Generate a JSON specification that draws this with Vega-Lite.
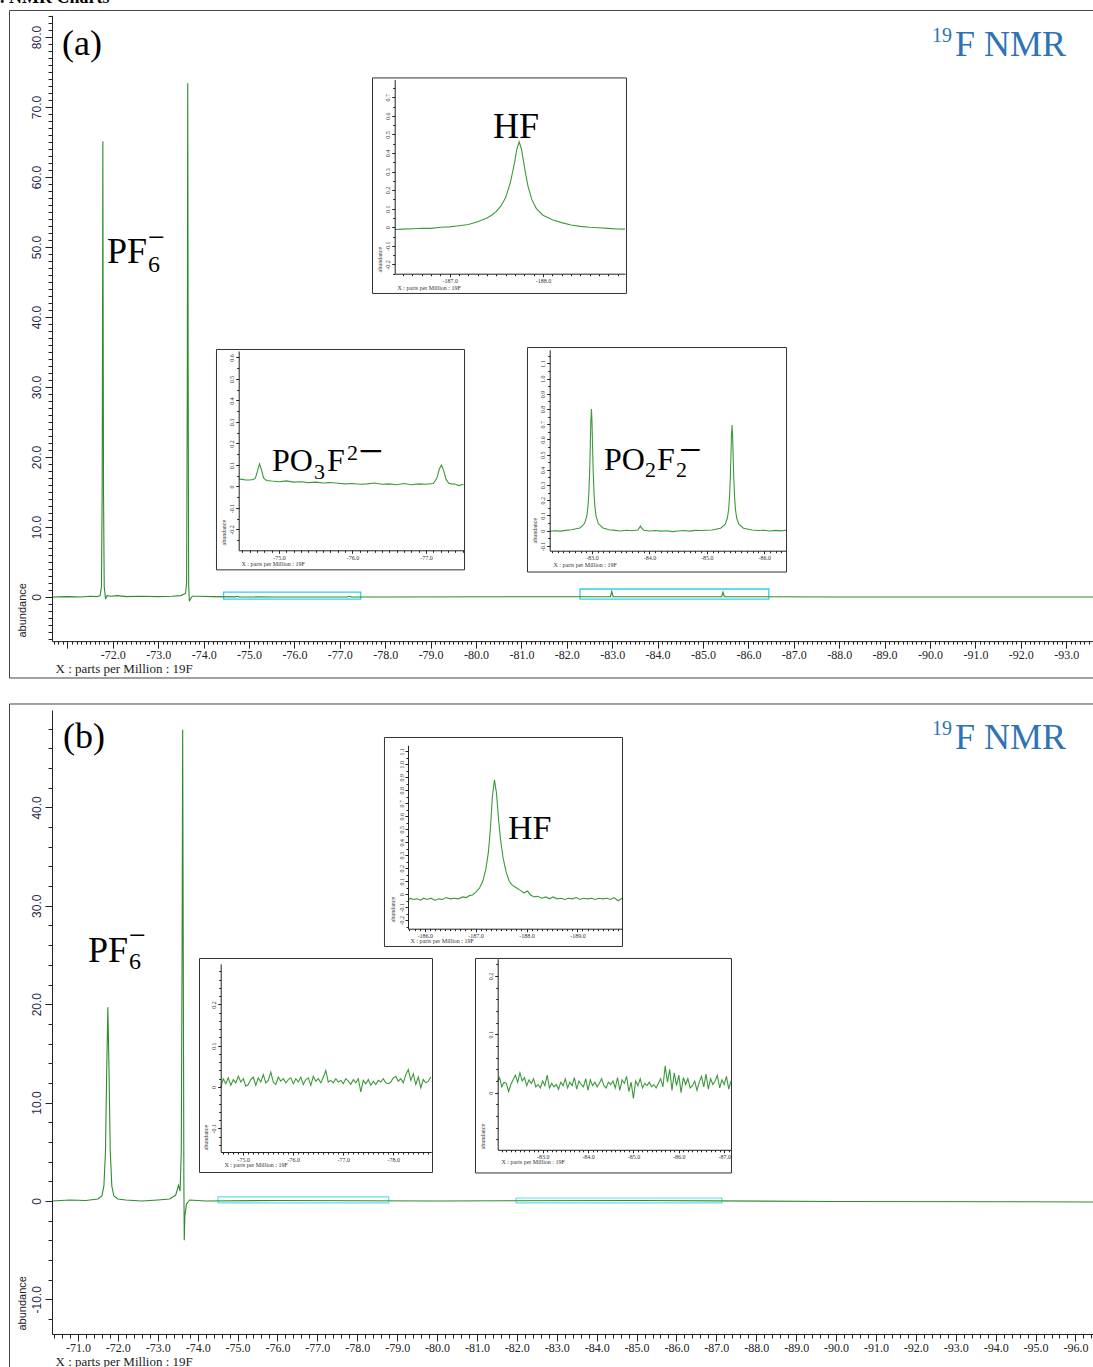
{
"$schema":"https://vega.github.io/schema/vega-lite/v6.json",
"width":1093,"height":1367,"autosize":"none","padding":0,"background":"white",
"config":{"view":{"stroke":null},"axis":{"grid":false,"domainColor":"#222","tickColor":"#222","labelColor":"#222","titleColor":"#222","labelOverlap":false,"labelFlush":false},"text":{"font":"Liberation Serif","color":"black"}},
"datasets":{
"one":[{}],
"mainA":[{"ppm":-70.66,"ab":0},{"ppm":-71.0,"ab":0.05},{"ppm":-71.3,"ab":0},{"ppm":-71.5,"ab":0.1},{"ppm":-71.65,"ab":0.05},{"ppm":-71.72,"ab":0.2},{"ppm":-71.75,"ab":1.5},{"ppm":-71.765,"ab":15},{"ppm":-71.775,"ab":45},{"ppm":-71.78,"ab":65.1},{"ppm":-71.785,"ab":45},{"ppm":-71.795,"ab":15},{"ppm":-71.81,"ab":1.5},{"ppm":-71.84,"ab":-0.3},{"ppm":-71.87,"ab":0.2},{"ppm":-71.95,"ab":0.1},{"ppm":-72.1,"ab":0.2},{"ppm":-72.3,"ab":0.05},{"ppm":-72.6,"ab":0.1},{"ppm":-73.0,"ab":0.05},{"ppm":-73.3,"ab":0.1},{"ppm":-73.5,"ab":0.2},{"ppm":-73.6,"ab":0.5},{"ppm":-73.625,"ab":2},{"ppm":-73.64,"ab":30},{"ppm":-73.65,"ab":73.4},{"ppm":-73.66,"ab":30},{"ppm":-73.67,"ab":2},{"ppm":-73.685,"ab":-0.6},{"ppm":-73.7,"ab":-0.4},{"ppm":-73.75,"ab":0.1},{"ppm":-73.9,"ab":0.1},{"ppm":-74.2,"ab":0.05},{"ppm":-74.7,"ab":0.02},{"ppm":-74.74,"ab":0.1},{"ppm":-74.78,"ab":0.02},{"ppm":-75.5,"ab":0},{"ppm":-77.17,"ab":0.01},{"ppm":-77.21,"ab":0.1},{"ppm":-77.25,"ab":0.01},{"ppm":-78.0,"ab":0},{"ppm":-82.96,"ab":0.05},{"ppm":-82.99,"ab":0.8},{"ppm":-83.02,"ab":0.05},{"ppm":-83.84,"ab":0.03},{"ppm":-85.41,"ab":0.05},{"ppm":-85.44,"ab":0.7},{"ppm":-85.47,"ab":0.05},{"ppm":-88.0,"ab":0},{"ppm":-93.59,"ab":0}],
"mainB":[{"ppm":-70.35,"ab":0},{"ppm":-70.8,"ab":0.1},{"ppm":-71.2,"ab":0.05},{"ppm":-71.5,"ab":0.2},{"ppm":-71.6,"ab":0.5},{"ppm":-71.65,"ab":1.5},{"ppm":-71.69,"ab":5},{"ppm":-71.72,"ab":13},{"ppm":-71.75,"ab":19.7},{"ppm":-71.78,"ab":13},{"ppm":-71.81,"ab":5},{"ppm":-71.85,"ab":1.5},{"ppm":-71.9,"ab":0.5},{"ppm":-72.0,"ab":0.2},{"ppm":-72.2,"ab":0.1},{"ppm":-72.6,"ab":0},{"ppm":-73.0,"ab":0.1},{"ppm":-73.3,"ab":0.2},{"ppm":-73.45,"ab":0.6},{"ppm":-73.52,"ab":1.6},{"ppm":-73.56,"ab":1.0},{"ppm":-73.59,"ab":5},{"ppm":-73.61,"ab":25},{"ppm":-73.625,"ab":47.9},{"ppm":-73.64,"ab":25},{"ppm":-73.655,"ab":2},{"ppm":-73.665,"ab":-4.0},{"ppm":-73.68,"ab":-1.5},{"ppm":-73.72,"ab":-0.3},{"ppm":-73.8,"ab":0.1},{"ppm":-74.2,"ab":0},{"ppm":-76,"ab":0.05},{"ppm":-80,"ab":0},{"ppm":-85,"ab":0.05},{"ppm":-90,"ab":-0.05},{"ppm":-96.44,"ab":-0.1}],
"hfA":[{"ppm":-186.41,"ab":-0.012},{"ppm":-186.5,"ab":-0.01},{"ppm":-186.6,"ab":-0.008},{"ppm":-186.7,"ab":-0.005},{"ppm":-186.8,"ab":-0.006},{"ppm":-186.9,"ab":0.0},{"ppm":-187.0,"ab":0.002},{"ppm":-187.1,"ab":0.008},{"ppm":-187.2,"ab":0.015},{"ppm":-187.3,"ab":0.03},{"ppm":-187.4,"ab":0.05},{"ppm":-187.45,"ab":0.065},{"ppm":-187.5,"ab":0.085},{"ppm":-187.55,"ab":0.115},{"ppm":-187.6,"ab":0.16},{"ppm":-187.65,"ab":0.24},{"ppm":-187.68,"ab":0.31},{"ppm":-187.7,"ab":0.36},{"ppm":-187.72,"ab":0.42},{"ppm":-187.745,"ab":0.46},{"ppm":-187.77,"ab":0.42},{"ppm":-187.79,"ab":0.36},{"ppm":-187.81,"ab":0.3},{"ppm":-187.84,"ab":0.22},{"ppm":-187.88,"ab":0.15},{"ppm":-187.93,"ab":0.1},{"ppm":-188.0,"ab":0.065},{"ppm":-188.1,"ab":0.04},{"ppm":-188.2,"ab":0.025},{"ppm":-188.3,"ab":0.012},{"ppm":-188.4,"ab":0.005},{"ppm":-188.5,"ab":0.0},{"ppm":-188.6,"ab":-0.003},{"ppm":-188.7,"ab":-0.006},{"ppm":-188.8,"ab":-0.009},{"ppm":-188.88,"ab":-0.01}],
"po3fA":[{"ppm":-74.452,"ab":0.035},{"ppm":-74.5,"ab":0.033},{"ppm":-74.55,"ab":0.03},{"ppm":-74.6,"ab":0.03},{"ppm":-74.65,"ab":0.032},{"ppm":-74.68,"ab":0.04},{"ppm":-74.71,"ab":0.075},{"ppm":-74.735,"ab":0.105},{"ppm":-74.76,"ab":0.08},{"ppm":-74.79,"ab":0.04},{"ppm":-74.83,"ab":0.028},{"ppm":-74.9,"ab":0.025},{"ppm":-75.0,"ab":0.022},{"ppm":-75.1,"ab":0.026},{"ppm":-75.2,"ab":0.02},{"ppm":-75.3,"ab":0.022},{"ppm":-75.4,"ab":0.018},{"ppm":-75.5,"ab":0.02},{"ppm":-75.6,"ab":0.016},{"ppm":-75.7,"ab":0.018},{"ppm":-75.8,"ab":0.015},{"ppm":-75.9,"ab":0.012},{"ppm":-76.0,"ab":0.014},{"ppm":-76.1,"ab":0.01},{"ppm":-76.2,"ab":0.012},{"ppm":-76.3,"ab":0.016},{"ppm":-76.4,"ab":0.01},{"ppm":-76.5,"ab":0.012},{"ppm":-76.6,"ab":0.008},{"ppm":-76.7,"ab":0.014},{"ppm":-76.8,"ab":0.008},{"ppm":-76.9,"ab":0.012},{"ppm":-77.0,"ab":0.01},{"ppm":-77.1,"ab":0.014},{"ppm":-77.15,"ab":0.04},{"ppm":-77.18,"ab":0.08},{"ppm":-77.21,"ab":0.1},{"ppm":-77.24,"ab":0.075},{"ppm":-77.27,"ab":0.035},{"ppm":-77.31,"ab":0.015},{"ppm":-77.35,"ab":0.012},{"ppm":-77.4,"ab":0.01},{"ppm":-77.45,"ab":0.004},{"ppm":-77.51,"ab":0.01}],
"po2f2A":[{"ppm":-82.263,"ab":-0.004},{"ppm":-82.35,"ab":0.0},{"ppm":-82.45,"ab":-0.003},{"ppm":-82.55,"ab":0.002},{"ppm":-82.64,"ab":0.006},{"ppm":-82.79,"ab":0.018},{"ppm":-82.87,"ab":0.047},{"ppm":-82.91,"ab":0.098},{"ppm":-82.93,"ab":0.16},{"ppm":-82.945,"ab":0.246},{"ppm":-82.96,"ab":0.4},{"ppm":-82.97,"ab":0.554},{"ppm":-82.98,"ab":0.72},{"ppm":-82.99,"ab":0.8},{"ppm":-83.0,"ab":0.72},{"ppm":-83.01,"ab":0.554},{"ppm":-83.02,"ab":0.4},{"ppm":-83.035,"ab":0.246},{"ppm":-83.05,"ab":0.16},{"ppm":-83.07,"ab":0.098},{"ppm":-83.11,"ab":0.047},{"ppm":-83.19,"ab":0.018},{"ppm":-83.3,"ab":0.006},{"ppm":-83.4,"ab":0.002},{"ppm":-83.5,"ab":-0.002},{"ppm":-83.6,"ab":0.003},{"ppm":-83.7,"ab":0.0},{"ppm":-83.8,"ab":0.004},{"ppm":-83.83,"ab":0.022},{"ppm":-83.845,"ab":0.03},{"ppm":-83.86,"ab":0.02},{"ppm":-83.9,"ab":0.003},{"ppm":-84.0,"ab":-0.002},{"ppm":-84.1,"ab":0.001},{"ppm":-84.2,"ab":-0.003},{"ppm":-84.3,"ab":0.0},{"ppm":-84.4,"ab":-0.006},{"ppm":-84.5,"ab":-0.002},{"ppm":-84.6,"ab":0.001},{"ppm":-84.7,"ab":-0.003},{"ppm":-84.8,"ab":0.002},{"ppm":-84.9,"ab":0.001},{"ppm":-85.09,"ab":0.005},{"ppm":-85.24,"ab":0.016},{"ppm":-85.32,"ab":0.041},{"ppm":-85.36,"ab":0.085},{"ppm":-85.38,"ab":0.139},{"ppm":-85.395,"ab":0.214},{"ppm":-85.41,"ab":0.35},{"ppm":-85.42,"ab":0.48},{"ppm":-85.43,"ab":0.625},{"ppm":-85.44,"ab":0.695},{"ppm":-85.45,"ab":0.625},{"ppm":-85.46,"ab":0.48},{"ppm":-85.47,"ab":0.35},{"ppm":-85.485,"ab":0.214},{"ppm":-85.5,"ab":0.139},{"ppm":-85.52,"ab":0.085},{"ppm":-85.56,"ab":0.041},{"ppm":-85.64,"ab":0.016},{"ppm":-85.79,"ab":0.005},{"ppm":-85.9,"ab":0.001},{"ppm":-86.0,"ab":0.003},{"ppm":-86.1,"ab":-0.002},{"ppm":-86.2,"ab":0.002},{"ppm":-86.3,"ab":-0.001},{"ppm":-86.38,"ab":0.003}],
"hfB":[{"ppm":-185.672,"ab":-0.045},{"ppm":-185.72,"ab":-0.03},{"ppm":-185.78,"ab":-0.04},{"ppm":-185.85,"ab":-0.035},{"ppm":-185.92,"ab":-0.045},{"ppm":-185.98,"ab":-0.03},{"ppm":-186.05,"ab":-0.04},{"ppm":-186.12,"ab":-0.03},{"ppm":-186.2,"ab":-0.045},{"ppm":-186.28,"ab":-0.035},{"ppm":-186.35,"ab":-0.04},{"ppm":-186.42,"ab":-0.025},{"ppm":-186.5,"ab":-0.035},{"ppm":-186.58,"ab":-0.03},{"ppm":-186.66,"ab":-0.035},{"ppm":-186.75,"ab":-0.02},{"ppm":-186.82,"ab":-0.025},{"ppm":-186.88,"ab":-0.01},{"ppm":-186.94,"ab":-0.005},{"ppm":-187.0,"ab":0.015},{"ppm":-187.08,"ab":0.05},{"ppm":-187.14,"ab":0.1},{"ppm":-187.2,"ab":0.19},{"ppm":-187.25,"ab":0.32},{"ppm":-187.29,"ab":0.5},{"ppm":-187.33,"ab":0.75},{"ppm":-187.37,"ab":0.88},{"ppm":-187.41,"ab":0.78},{"ppm":-187.45,"ab":0.58},{"ppm":-187.49,"ab":0.42},{"ppm":-187.54,"ab":0.28},{"ppm":-187.6,"ab":0.17},{"ppm":-187.66,"ab":0.1},{"ppm":-187.72,"ab":0.07},{"ppm":-187.8,"ab":0.05},{"ppm":-187.88,"ab":0.03},{"ppm":-187.95,"ab":0.01},{"ppm":-188.02,"ab":0.025},{"ppm":-188.08,"ab":-0.005},{"ppm":-188.15,"ab":-0.02},{"ppm":-188.22,"ab":-0.015},{"ppm":-188.3,"ab":-0.03},{"ppm":-188.38,"ab":-0.02},{"ppm":-188.45,"ab":-0.035},{"ppm":-188.52,"ab":-0.02},{"ppm":-188.6,"ab":-0.035},{"ppm":-188.68,"ab":-0.03},{"ppm":-188.75,"ab":-0.04},{"ppm":-188.82,"ab":-0.03},{"ppm":-188.9,"ab":-0.035},{"ppm":-188.98,"ab":-0.025},{"ppm":-189.05,"ab":-0.04},{"ppm":-189.12,"ab":-0.03},{"ppm":-189.2,"ab":-0.035},{"ppm":-189.28,"ab":-0.03},{"ppm":-189.35,"ab":-0.04},{"ppm":-189.42,"ab":-0.03},{"ppm":-189.5,"ab":-0.035},{"ppm":-189.58,"ab":-0.03},{"ppm":-189.65,"ab":-0.04},{"ppm":-189.72,"ab":-0.025},{"ppm":-189.8,"ab":-0.05},{"ppm":-189.876,"ab":-0.03}],
"noiseB1":[{"ppm":-74.55,"ab":0.0},{"ppm":-74.6,"ab":0.02},{"ppm":-74.65,"ab":0.008},{"ppm":-74.7,"ab":0.022},{"ppm":-74.75,"ab":0.004},{"ppm":-74.8,"ab":0.018},{"ppm":-74.85,"ab":0.01},{"ppm":-74.9,"ab":0.026},{"ppm":-74.95,"ab":0.012},{"ppm":-75.0,"ab":0.02},{"ppm":-75.05,"ab":0.002},{"ppm":-75.1,"ab":0.006},{"ppm":-75.15,"ab":0.018},{"ppm":-75.2,"ab":0.024},{"ppm":-75.25,"ab":0.004},{"ppm":-75.3,"ab":0.022},{"ppm":-75.35,"ab":0.012},{"ppm":-75.4,"ab":0.03},{"ppm":-75.45,"ab":0.01},{"ppm":-75.5,"ab":0.016},{"ppm":-75.55,"ab":0.036},{"ppm":-75.6,"ab":0.012},{"ppm":-75.65,"ab":0.006},{"ppm":-75.7,"ab":0.024},{"ppm":-75.75,"ab":0.014},{"ppm":-75.8,"ab":0.02},{"ppm":-75.85,"ab":0.01},{"ppm":-75.9,"ab":0.018},{"ppm":-75.95,"ab":0.022},{"ppm":-76.0,"ab":0.008},{"ppm":-76.05,"ab":0.02},{"ppm":-76.1,"ab":0.012},{"ppm":-76.15,"ab":0.024},{"ppm":-76.2,"ab":0.006},{"ppm":-76.25,"ab":0.018},{"ppm":-76.3,"ab":0.022},{"ppm":-76.35,"ab":0.004},{"ppm":-76.4,"ab":0.026},{"ppm":-76.45,"ab":0.014},{"ppm":-76.5,"ab":0.02},{"ppm":-76.55,"ab":0.01},{"ppm":-76.6,"ab":0.024},{"ppm":-76.65,"ab":0.04},{"ppm":-76.7,"ab":0.012},{"ppm":-76.75,"ab":0.016},{"ppm":-76.8,"ab":0.01},{"ppm":-76.85,"ab":0.02},{"ppm":-76.9,"ab":0.012},{"ppm":-76.95,"ab":0.016},{"ppm":-77.0,"ab":0.008},{"ppm":-77.05,"ab":0.02},{"ppm":-77.1,"ab":0.014},{"ppm":-77.15,"ab":0.006},{"ppm":-77.2,"ab":0.018},{"ppm":-77.25,"ab":0.01},{"ppm":-77.3,"ab":0.02},{"ppm":-77.35,"ab":-0.012},{"ppm":-77.4,"ab":0.016},{"ppm":-77.45,"ab":0.008},{"ppm":-77.5,"ab":0.018},{"ppm":-77.55,"ab":0.004},{"ppm":-77.6,"ab":0.014},{"ppm":-77.65,"ab":0.006},{"ppm":-77.7,"ab":0.016},{"ppm":-77.75,"ab":0.012},{"ppm":-77.8,"ab":0.02},{"ppm":-77.85,"ab":0.01},{"ppm":-77.9,"ab":0.008},{"ppm":-77.95,"ab":0.012},{"ppm":-78.0,"ab":0.022},{"ppm":-78.05,"ab":0.026},{"ppm":-78.1,"ab":0.014},{"ppm":-78.15,"ab":0.02},{"ppm":-78.2,"ab":0.01},{"ppm":-78.25,"ab":0.03},{"ppm":-78.3,"ab":0.042},{"ppm":-78.35,"ab":0.016},{"ppm":-78.4,"ab":0.032},{"ppm":-78.45,"ab":0.006},{"ppm":-78.5,"ab":0.024},{"ppm":-78.55,"ab":-0.002},{"ppm":-78.6,"ab":0.018},{"ppm":-78.65,"ab":0.01},{"ppm":-78.7,"ab":0.014},{"ppm":-78.75,"ab":0.024}],
"noiseB2":[{"ppm":-82.01,"ab":0.02},{"ppm":-82.05,"ab":0.026},{"ppm":-82.1,"ab":0.01},{"ppm":-82.15,"ab":0.018},{"ppm":-82.2,"ab":0.016},{"ppm":-82.25,"ab":0.002},{"ppm":-82.3,"ab":0.014},{"ppm":-82.35,"ab":0.022},{"ppm":-82.4,"ab":0.03},{"ppm":-82.45,"ab":0.018},{"ppm":-82.5,"ab":0.034},{"ppm":-82.55,"ab":0.02},{"ppm":-82.6,"ab":0.026},{"ppm":-82.65,"ab":0.012},{"ppm":-82.7,"ab":0.022},{"ppm":-82.75,"ab":0.016},{"ppm":-82.8,"ab":0.024},{"ppm":-82.85,"ab":0.01},{"ppm":-82.9,"ab":0.014},{"ppm":-82.95,"ab":0.008},{"ppm":-83.0,"ab":0.02},{"ppm":-83.05,"ab":0.012},{"ppm":-83.1,"ab":0.03},{"ppm":-83.15,"ab":0.008},{"ppm":-83.2,"ab":0.016},{"ppm":-83.25,"ab":0.01},{"ppm":-83.3,"ab":0.014},{"ppm":-83.35,"ab":0.006},{"ppm":-83.4,"ab":0.018},{"ppm":-83.45,"ab":0.012},{"ppm":-83.5,"ab":0.024},{"ppm":-83.55,"ab":0.008},{"ppm":-83.6,"ab":0.018},{"ppm":-83.65,"ab":0.012},{"ppm":-83.7,"ab":0.026},{"ppm":-83.75,"ab":0.006},{"ppm":-83.8,"ab":0.02},{"ppm":-83.85,"ab":0.014},{"ppm":-83.9,"ab":0.01},{"ppm":-83.95,"ab":0.024},{"ppm":-84.0,"ab":0.004},{"ppm":-84.05,"ab":0.022},{"ppm":-84.1,"ab":0.012},{"ppm":-84.15,"ab":0.018},{"ppm":-84.2,"ab":0.01},{"ppm":-84.25,"ab":0.016},{"ppm":-84.3,"ab":0.024},{"ppm":-84.35,"ab":0.012},{"ppm":-84.4,"ab":0.008},{"ppm":-84.45,"ab":0.018},{"ppm":-84.5,"ab":0.014},{"ppm":-84.55,"ab":0.02},{"ppm":-84.6,"ab":0.008},{"ppm":-84.65,"ab":0.026},{"ppm":-84.7,"ab":0.004},{"ppm":-84.75,"ab":0.022},{"ppm":-84.8,"ab":0.016},{"ppm":-84.85,"ab":0.028},{"ppm":-84.9,"ab":0.002},{"ppm":-84.95,"ab":0.018},{"ppm":-85.0,"ab":-0.01},{"ppm":-85.05,"ab":0.02},{"ppm":-85.1,"ab":0.012},{"ppm":-85.15,"ab":0.024},{"ppm":-85.2,"ab":0.008},{"ppm":-85.25,"ab":0.016},{"ppm":-85.3,"ab":0.012},{"ppm":-85.35,"ab":0.018},{"ppm":-85.4,"ab":0.01},{"ppm":-85.45,"ab":0.014},{"ppm":-85.5,"ab":0.008},{"ppm":-85.55,"ab":0.016},{"ppm":-85.6,"ab":0.024},{"ppm":-85.65,"ab":0.01},{"ppm":-85.7,"ab":0.046},{"ppm":-85.75,"ab":0.018},{"ppm":-85.8,"ab":0.04},{"ppm":-85.85,"ab":0.004},{"ppm":-85.9,"ab":0.034},{"ppm":-85.95,"ab":0.012},{"ppm":-86.0,"ab":0.03},{"ppm":-86.05,"ab":0.0},{"ppm":-86.1,"ab":0.026},{"ppm":-86.15,"ab":0.014},{"ppm":-86.2,"ab":0.024},{"ppm":-86.25,"ab":0.008},{"ppm":-86.3,"ab":0.012},{"ppm":-86.35,"ab":0.02},{"ppm":-86.4,"ab":0.004},{"ppm":-86.45,"ab":0.018},{"ppm":-86.5,"ab":0.028},{"ppm":-86.55,"ab":0.01},{"ppm":-86.6,"ab":0.032},{"ppm":-86.65,"ab":0.006},{"ppm":-86.7,"ab":0.024},{"ppm":-86.75,"ab":0.014},{"ppm":-86.8,"ab":0.02},{"ppm":-86.85,"ab":0.03},{"ppm":-86.9,"ab":0.008},{"ppm":-86.95,"ab":0.022},{"ppm":-87.0,"ab":0.014},{"ppm":-87.05,"ab":0.028},{"ppm":-87.1,"ab":0.006},{"ppm":-87.15,"ab":0.02}]
},
"resolve":{"scale":{"x":"independent","y":"independent"},"axis":{"x":"independent","y":"independent"}},
"layer":[
{"resolve":{"axis":{"x":"independent","y":"independent"}},"layer":[
 {"data":{"name":"one"},"mark":{"type":"rect","fill":"transparent","stroke":"#444","strokeWidth":1},"encoding":{"x":{"datum":-69.724,"axis":null},"x2":{"datum":-94.0},"y":{"datum":83.79,"axis":null},"y2":{"datum":-11.57}}},
 {"data":{"name":"one"},"mark":{"type":"rect","fill":"transparent","stroke":"#2fd3e3","strokeWidth":1.3},"encoding":{"x":{"datum":-74.44,"axis":null},"x2":{"datum":-77.46},"y":{"datum":0.71,"axis":null},"y2":{"datum":-0.29}}},
 {"data":{"name":"one"},"mark":{"type":"rect","fill":"transparent","stroke":"#2fd3e3","strokeWidth":1.3},"encoding":{"x":{"datum":-82.29,"axis":null},"x2":{"datum":-86.45},"y":{"datum":1.14,"axis":null},"y2":{"datum":-0.29}}},
 {"data":{"name":"mainA"},"mark":{"type":"line","strokeOpacity":0},"encoding":{
  "x":{"field":"ppm","type":"quantitative","axis":{"zindex":1,"orient":"bottom","offset":-725.9,"tickCount":250,"labels":false,"domain":false,"tickSize":3,"title":null}},
  "y":{"field":"ab","type":"quantitative","axis":{"zindex":1,"orient":"left","offset":-52,"tickCount":90,"labels":false,"domain":false,"tickSize":4,"title":null}}}},
 {"data":{"name":"mainA"},"mark":{"type":"line","color":"#2e8b2e","strokeWidth":1.1},"encoding":{
  "x":{"field":"ppm","type":"quantitative","scale":{"domain":[-70.66,-93.59],"range":[52,1093],"nice":false,"zero":false},
   "axis":{"zindex":1,"orient":"bottom","offset":-725.9,"tickCount":23,"tickSize":7,"labelExpr":"datum.value > -71.5 ? '' : '-' + format(abs(datum.value), '.1f')","labelFont":"Liberation Serif","labelFontSize":12,"labelPadding":1,"title":"X : parts per Million : 19F","titleFont":"Liberation Serif","titleFontSize":13,"titleFontWeight":"normal","titleX":55,"titleY":31,"titleAlign":"left","titleBaseline":"alphabetic"}},
  "y":{"field":"ab","type":"quantitative","scale":{"domain":[-6.3,83.1],"range":[641.1,15.3],"nice":false,"zero":false},
   "axis":{"zindex":1,"orient":"left","offset":-52,"tickCount":9,"tickSize":7,"labelExpr":"datum.value == 0 ? '0' : (datum.value < 0 ? '-' : '') + format(abs(datum.value), '.1f')","labelAngle":-90,"labelAlign":"center","labelBaseline":"bottom","labelPadding":2,"labelFont":"Liberation Sans Narrow, Liberation Sans","labelFontSize":12,"labelColor":"#2a2a4a","title":"abundance","titleFont":"Liberation Sans Narrow, Liberation Sans","titleFontSize":11,"titleFontWeight":"normal","titleAngle":-90,"titleX":-30,"titleY":637,"titleAlign":"left","titleBaseline":"middle"}}}},
 {"data":{"name":"one"},"mark":{"type":"text","text":". NMR Charts","fontSize":18,"fontWeight":"bold","align":"left","baseline":"alphabetic"},"encoding":{"x":{"datum":-69.515,"axis":null},"y":{"datum":84.86,"axis":null}}},
 {"data":{"name":"one"},"mark":{"type":"text","text":"(a)","fontSize":36,"align":"left","baseline":"alphabetic"},"encoding":{"x":{"datum":-70.88,"axis":null},"y":{"datum":77.43,"axis":null}}},
 {"data":{"name":"one"},"mark":{"type":"text","text":"19","fontSize":20,"align":"left","baseline":"alphabetic","color":"#2e74b5"},"encoding":{"x":{"datum":-90.043,"axis":null},"y":{"datum":79.29,"axis":null}}},
 {"data":{"name":"one"},"mark":{"type":"text","text":"F NMR","fontSize":36,"align":"left","baseline":"alphabetic","color":"#2e74b5"},"encoding":{"x":{"datum":-90.55,"axis":null},"y":{"datum":77.29,"axis":null}}},
 {"data":{"name":"one"},"mark":{"type":"text","text":"PF","fontSize":36,"align":"left","baseline":"alphabetic"},"encoding":{"x":{"datum":-71.871,"axis":null},"y":{"datum":47.71,"axis":null}}},
 {"data":{"name":"one"},"mark":{"type":"text","text":"6","fontSize":24,"align":"left","baseline":"alphabetic"},"encoding":{"x":{"datum":-72.775,"axis":null},"y":{"datum":46.43,"axis":null}}},
 {"data":{"name":"one"},"mark":{"type":"text","text":"−","fontSize":30,"align":"left","baseline":"alphabetic"},"encoding":{"x":{"datum":-72.775,"axis":null},"y":{"datum":49.93,"axis":null}}}
]},
{"resolve":{"axis":{"x":"independent","y":"independent"}},"layer":[
 {"data":{"name":"one"},"mark":{"type":"rect","fill":"white","stroke":"#333","strokeWidth":1},"encoding":{"x":{"datum":-186.172,"axis":null},"x2":{"datum":-188.896},"y":{"datum":0.804,"axis":null},"y2":{"datum":-0.3565}}},
 {"data":{"name":"hfA"},"mark":{"type":"line","strokeOpacity":0},"encoding":{
  "x":{"field":"ppm","type":"quantitative","axis":{"zindex":1,"orient":"bottom","offset":-1093.3,"tickCount":25,"labels":false,"domain":false,"tickSize":2,"title":null}},
  "y":{"field":"ab","type":"quantitative","axis":{"zindex":1,"orient":"left","offset":-394.7,"tickCount":21,"labels":false,"domain":false,"tickSize":2,"title":null}}}},
 {"data":{"name":"hfA"},"mark":{"type":"line","color":"#3c9a3c","strokeWidth":1.1},"encoding":{
  "x":{"field":"ppm","type":"quantitative","scale":{"domain":[-186.41,-188.88],"range":[394.7,625],"nice":false,"zero":false},
   "axis":{"zindex":1,"orient":"bottom","offset":-1093.3,"tickCount":2,"tickSize":3,"labelExpr":"'-' + format(abs(datum.value), '.1f')","labelFont":"Liberation Serif","labelFontSize":6,"labelPadding":1,"labelColor":"#333","title":"X : parts per Million : 19F","titleFont":"Liberation Serif","titleFontSize":6,"titleFontWeight":"normal","titleX":397,"titleY":16,"titleAlign":"left","titleBaseline":"alphabetic","titleColor":"#333"}},
  "y":{"field":"ab","type":"quantitative","scale":{"domain":[-0.25,0.795],"range":[273.7,79.6],"nice":false,"zero":false},
   "axis":{"zindex":1,"orient":"left","offset":-394.7,"tickCount":10,"tickSize":3,"labelExpr":"abs(datum.value) < 1e-9 ? '0' : (datum.value < 0 ? '-' : '') + format(abs(datum.value), '.1f')","labelAngle":-90,"labelAlign":"center","labelBaseline":"bottom","labelPadding":1,"labelFont":"Liberation Serif","labelFontSize":6,"labelColor":"#333","title":"abundance","titleFont":"Liberation Serif","titleFontSize":6,"titleFontWeight":"normal","titleAngle":-90,"titleX":-15,"titleY":272,"titleAlign":"left","titleBaseline":"middle","titleColor":"#333"}}}},
 {"data":{"name":"one"},"mark":{"type":"text","text":"HF","fontSize":36,"align":"left","baseline":"alphabetic"},"encoding":{"x":{"datum":-187.464,"axis":null},"y":{"datum":0.481,"axis":null}}}
]},
{"resolve":{"axis":{"x":"independent","y":"independent"}},"layer":[
 {"data":{"name":"one"},"mark":{"type":"rect","fill":"white","stroke":"#333","strokeWidth":1},"encoding":{"x":{"datum":-74.15,"axis":null},"x2":{"datum":-77.524},"y":{"datum":0.637,"axis":null},"y2":{"datum":-0.388}}},
 {"data":{"name":"po3fA"},"mark":{"type":"line","strokeOpacity":0},"encoding":{
  "x":{"field":"ppm","type":"quantitative","axis":{"zindex":1,"orient":"bottom","offset":-816.7,"tickCount":31,"labels":false,"domain":false,"tickSize":2,"title":null}},
  "y":{"field":"ab","type":"quantitative","axis":{"zindex":1,"orient":"left","offset":-238.7,"tickCount":19,"labels":false,"domain":false,"tickSize":2,"title":null}}}},
 {"data":{"name":"po3fA"},"mark":{"type":"line","color":"#3c9a3c","strokeWidth":1.1},"encoding":{
  "x":{"field":"ppm","type":"quantitative","scale":{"domain":[-74.452,-77.51],"range":[238.7,463.5],"nice":false,"zero":false},
   "axis":{"zindex":1,"orient":"bottom","offset":-816.7,"tickCount":3,"tickSize":3,"labelExpr":"'-' + format(abs(datum.value), '.1f')","labelFont":"Liberation Serif","labelFontSize":6,"labelPadding":1,"labelColor":"#333","title":"X : parts per Million : 19F","titleFont":"Liberation Serif","titleFontSize":6,"titleFontWeight":"normal","titleX":241,"titleY":15,"titleAlign":"left","titleBaseline":"alphabetic","titleColor":"#333"}},
  "y":{"field":"ab","type":"quantitative","scale":{"domain":[-0.297,0.63],"range":[550.3,351],"nice":false,"zero":false},
   "axis":{"zindex":1,"orient":"left","offset":-238.7,"tickCount":9,"tickSize":3,"labelExpr":"abs(datum.value) < 1e-9 ? '0' : (datum.value < 0 ? '-' : '') + format(abs(datum.value), '.1f')","labelAngle":-90,"labelAlign":"center","labelBaseline":"bottom","labelPadding":1,"labelFont":"Liberation Serif","labelFontSize":6,"labelColor":"#333","title":"abundance","titleFont":"Liberation Serif","titleFontSize":6,"titleFontWeight":"normal","titleAngle":-90,"titleX":-15,"titleY":545,"titleAlign":"left","titleBaseline":"middle","titleColor":"#333"}}}},
 {"data":{"name":"one"},"mark":{"type":"text","text":"PO","fontSize":32,"align":"left","baseline":"alphabetic"},"encoding":{"x":{"datum":-74.905,"axis":null},"y":{"datum":0.0721,"axis":null}}},
 {"data":{"name":"one"},"mark":{"type":"text","text":"3","fontSize":22,"align":"left","baseline":"alphabetic"},"encoding":{"x":{"datum":-75.476,"axis":null},"y":{"datum":0.0349,"axis":null}}},
 {"data":{"name":"one"},"mark":{"type":"text","text":"F","fontSize":32,"align":"left","baseline":"alphabetic"},"encoding":{"x":{"datum":-75.653,"axis":null},"y":{"datum":0.0721,"axis":null}}},
 {"data":{"name":"one"},"mark":{"type":"text","text":"2","fontSize":22,"align":"left","baseline":"alphabetic"},"encoding":{"x":{"datum":-75.925,"axis":null},"y":{"datum":0.1233,"axis":null}}},
 {"data":{"name":"one"},"mark":{"type":"text","text":"−","fontSize":44,"align":"left","baseline":"alphabetic"},"encoding":{"x":{"datum":-76.08,"axis":null},"y":{"datum":0.0967,"axis":null}}}
]},
{"resolve":{"axis":{"x":"independent","y":"independent"}},"layer":[
 {"data":{"name":"one"},"mark":{"type":"rect","fill":"white","stroke":"#333","strokeWidth":1},"encoding":{"x":{"datum":-81.876,"axis":null},"x2":{"datum":-86.389},"y":{"datum":1.205,"axis":null},"y2":{"datum":-0.272}}},
 {"data":{"name":"po2f2A"},"mark":{"type":"line","strokeOpacity":0},"encoding":{
  "x":{"field":"ppm","type":"quantitative","axis":{"zindex":1,"orient":"bottom","offset":-816.3,"tickCount":41,"labels":false,"domain":false,"tickSize":2,"title":null}},
  "y":{"field":"ab","type":"quantitative","axis":{"zindex":1,"orient":"left","offset":-549.7,"tickCount":27,"labels":false,"domain":false,"tickSize":2,"title":null}}}},
 {"data":{"name":"po2f2A"},"mark":{"type":"line","color":"#3c9a3c","strokeWidth":1.1},"encoding":{
  "x":{"field":"ppm","type":"quantitative","scale":{"domain":[-82.263,-86.38],"range":[549.7,786],"nice":false,"zero":false},
   "axis":{"zindex":1,"orient":"bottom","offset":-816.3,"tickCount":4,"tickSize":3,"labelExpr":"'-' + format(abs(datum.value), '.1f')","labelFont":"Liberation Serif","labelFontSize":6,"labelPadding":1,"labelColor":"#333","title":"X : parts per Million : 19F","titleFont":"Liberation Serif","titleFontSize":6,"titleFontWeight":"normal","titleX":553,"titleY":16,"titleAlign":"left","titleBaseline":"alphabetic","titleColor":"#333"}},
  "y":{"field":"ab","type":"quantitative","scale":{"domain":[-0.1316,1.19],"range":[550.7,349.8],"nice":false,"zero":false},
   "axis":{"zindex":1,"orient":"left","offset":-549.7,"tickCount":13,"tickSize":3,"labelExpr":"abs(datum.value) < 1e-9 ? '0' : (datum.value < 0 ? '-' : '') + format(abs(datum.value), '.1f')","labelAngle":-90,"labelAlign":"center","labelBaseline":"bottom","labelPadding":1,"labelFont":"Liberation Serif","labelFontSize":6,"labelColor":"#333","title":"abundance","titleFont":"Liberation Serif","titleFontSize":6,"titleFontWeight":"normal","titleAngle":-90,"titleX":-15,"titleY":543,"titleAlign":"left","titleBaseline":"middle","titleColor":"#333"}}}},
 {"data":{"name":"one"},"mark":{"type":"text","text":"PO","fontSize":32,"align":"left","baseline":"alphabetic"},"encoding":{"x":{"datum":-83.209,"axis":null},"y":{"datum":0.3993,"axis":null}}},
 {"data":{"name":"one"},"mark":{"type":"text","text":"2","fontSize":22,"align":"left","baseline":"alphabetic"},"encoding":{"x":{"datum":-83.923,"axis":null},"y":{"datum":0.3533,"axis":null}}},
 {"data":{"name":"one"},"mark":{"type":"text","text":"F","fontSize":32,"align":"left","baseline":"alphabetic"},"encoding":{"x":{"datum":-84.132,"axis":null},"y":{"datum":0.3993,"axis":null}}},
 {"data":{"name":"one"},"mark":{"type":"text","text":"2","fontSize":22,"align":"left","baseline":"alphabetic"},"encoding":{"x":{"datum":-84.463,"axis":null},"y":{"datum":0.3533,"axis":null}}},
 {"data":{"name":"one"},"mark":{"type":"text","text":"−","fontSize":40,"align":"left","baseline":"alphabetic"},"encoding":{"x":{"datum":-84.516,"axis":null},"y":{"datum":0.4434,"axis":null}}}
]},
{"resolve":{"axis":{"x":"independent","y":"independent"}},"layer":[
 {"data":{"name":"one"},"mark":{"type":"rect","fill":"transparent","stroke":"#444","strokeWidth":1},"encoding":{"x":{"datum":-69.285,"axis":null},"x2":{"datum":-97.5},"y":{"datum":50.51,"axis":null},"y2":{"datum":-18}}},
 {"data":{"name":"one"},"mark":{"type":"rect","fill":"transparent","stroke":"#5fe0ea","strokeWidth":1.2},"encoding":{"x":{"datum":-74.51,"axis":null},"x2":{"datum":-78.79},"y":{"datum":0.41,"axis":null},"y2":{"datum":-0.2}}},
 {"data":{"name":"one"},"mark":{"type":"rect","fill":"transparent","stroke":"#5fe0ea","strokeWidth":1.2},"encoding":{"x":{"datum":-81.98,"axis":null},"x2":{"datum":-87.14},"y":{"datum":0.3,"axis":null},"y2":{"datum":-0.2}}},
 {"data":{"name":"mainB"},"mark":{"type":"line","strokeOpacity":0},"encoding":{
  "x":{"field":"ppm","type":"quantitative","axis":{"zindex":1,"orient":"bottom","offset":-33,"tickCount":130,"labels":false,"domain":false,"tickSize":4,"title":null}},
  "y":{"field":"ab","type":"quantitative","axis":{"zindex":1,"orient":"left","offset":-52,"tickCount":32,"labels":false,"domain":false,"tickSize":4,"title":null}}}},
 {"data":{"name":"mainB"},"mark":{"type":"line","color":"#2e8b2e","strokeWidth":1.1},"encoding":{
  "x":{"field":"ppm","type":"quantitative","scale":{"domain":[-70.35,-96.44],"range":[52,1093],"nice":false,"zero":false},
   "axis":{"zindex":1,"orient":"bottom","offset":-33,"tickCount":26,"tickSize":7,"labelExpr":"'-' + format(abs(datum.value), '.1f')","labelFont":"Liberation Serif","labelFontSize":12,"labelPadding":1,"title":"X : parts per Million : 19F","titleFont":"Liberation Serif","titleFontSize":13,"titleFontWeight":"normal","titleX":55,"titleY":31,"titleAlign":"left","titleBaseline":"alphabetic"}},
  "y":{"field":"ab","type":"quantitative","scale":{"domain":[-13.52,49.9],"range":[1334,710],"nice":false,"zero":false},
   "axis":{"zindex":1,"orient":"left","offset":-52,"tickCount":6,"tickSize":7,"labelExpr":"datum.value == 0 ? '0' : (datum.value < 0 ? '-' : '') + format(abs(datum.value), '.1f')","labelAngle":-90,"labelAlign":"center","labelBaseline":"bottom","labelPadding":2,"labelFont":"Liberation Sans Narrow, Liberation Sans","labelFontSize":12,"labelColor":"#2a2a4a","title":"abundance","titleFont":"Liberation Sans Narrow, Liberation Sans","titleFontSize":11,"titleFontWeight":"normal","titleAngle":-90,"titleX":-30,"titleY":1330,"titleAlign":"left","titleBaseline":"middle"}}}},
 {"data":{"name":"one"},"mark":{"type":"text","text":"(b)","fontSize":36,"align":"left","baseline":"alphabetic"},"encoding":{"x":{"datum":-70.626,"axis":null},"y":{"datum":46.04,"axis":null}}},
 {"data":{"name":"one"},"mark":{"type":"text","text":"19","fontSize":20,"align":"left","baseline":"alphabetic","color":"#2e74b5"},"encoding":{"x":{"datum":-92.405,"axis":null},"y":{"datum":47.36,"axis":null}}},
 {"data":{"name":"one"},"mark":{"type":"text","text":"F NMR","fontSize":36,"align":"left","baseline":"alphabetic","color":"#2e74b5"},"encoding":{"x":{"datum":-92.98,"axis":null},"y":{"datum":45.93,"axis":null}}},
 {"data":{"name":"one"},"mark":{"type":"text","text":"PF","fontSize":36,"align":"left","baseline":"alphabetic"},"encoding":{"x":{"datum":-71.252,"axis":null},"y":{"datum":24.29,"axis":null}}},
 {"data":{"name":"one"},"mark":{"type":"text","text":"6","fontSize":24,"align":"left","baseline":"alphabetic"},"encoding":{"x":{"datum":-72.28,"axis":null},"y":{"datum":23.58,"axis":null}}},
 {"data":{"name":"one"},"mark":{"type":"text","text":"−","fontSize":30,"align":"left","baseline":"alphabetic"},"encoding":{"x":{"datum":-72.28,"axis":null},"y":{"datum":25.97,"axis":null}}}
]},
{"resolve":{"axis":{"x":"independent","y":"independent"}},"layer":[
 {"data":{"name":"one"},"mark":{"type":"rect","fill":"white","stroke":"#333","strokeWidth":1},"encoding":{"x":{"datum":-185.21,"axis":null},"x2":{"datum":-189.886},"y":{"datum":1.206,"axis":null},"y2":{"datum":-0.4015}}},
 {"data":{"name":"hfB"},"mark":{"type":"line","strokeOpacity":0},"encoding":{
  "x":{"field":"ppm","type":"quantitative","axis":{"zindex":1,"orient":"bottom","offset":-438.3,"tickCount":42,"labels":false,"domain":false,"tickSize":2,"title":null}},
  "y":{"field":"ab","type":"quantitative","axis":{"zindex":1,"orient":"left","offset":-408,"tickCount":28,"labels":false,"domain":false,"tickSize":2,"title":null}}}},
 {"data":{"name":"hfB"},"mark":{"type":"line","color":"#3c9a3c","strokeWidth":1.1},"encoding":{
  "x":{"field":"ppm","type":"quantitative","scale":{"domain":[-185.672,-189.876],"range":[408,622],"nice":false,"zero":false},
   "axis":{"zindex":1,"orient":"bottom","offset":-438.3,"tickCount":4,"tickSize":3,"labelExpr":"'-' + format(abs(datum.value), '.1f')","labelFont":"Liberation Serif","labelFontSize":6,"labelPadding":1,"labelColor":"#333","title":"X : parts per Million : 19F","titleFont":"Liberation Serif","titleFontSize":6,"titleFontWeight":"normal","titleX":410,"titleY":14,"titleAlign":"left","titleBaseline":"alphabetic","titleColor":"#333"}},
  "y":{"field":"ab","type":"quantitative","scale":{"domain":[-0.2646,1.146],"range":[928.7,745.3],"nice":false,"zero":false},
   "axis":{"zindex":1,"orient":"left","offset":-408,"tickCount":14,"tickSize":3,"labelExpr":"abs(datum.value) < 1e-9 ? '0' : (datum.value < 0 ? '-' : '') + format(abs(datum.value), '.1f')","labelAngle":-90,"labelAlign":"center","labelBaseline":"bottom","labelPadding":1,"labelFont":"Liberation Serif","labelFontSize":6,"labelColor":"#333","title":"abundance","titleFont":"Liberation Serif","titleFontSize":6,"titleFontWeight":"normal","titleAngle":-90,"titleX":-16,"titleY":922,"titleAlign":"left","titleBaseline":"middle","titleColor":"#333"}}}},
 {"data":{"name":"one"},"mark":{"type":"text","text":"HF","fontSize":34,"align":"left","baseline":"alphabetic"},"encoding":{"x":{"datum":-187.637,"axis":null},"y":{"datum":0.4277,"axis":null}}}
]},
{"resolve":{"axis":{"x":"independent","y":"independent"}},"layer":[
 {"data":{"name":"one"},"mark":{"type":"rect","fill":"white","stroke":"#333","strokeWidth":1},"encoding":{"x":{"datum":-74.124,"axis":null},"x2":{"datum":-78.784},"y":{"datum":0.3111,"axis":null},"y2":{"datum":-0.207}}},
 {"data":{"name":"noiseB1"},"mark":{"type":"line","strokeOpacity":0},"encoding":{
  "x":{"field":"ppm","type":"quantitative","axis":{"zindex":1,"orient":"bottom","offset":-215,"tickCount":42,"labels":false,"domain":false,"tickSize":2,"title":null}},
  "y":{"field":"ab","type":"quantitative","axis":{"zindex":1,"orient":"left","offset":-220.7,"tickCount":23,"labels":false,"domain":false,"tickSize":2,"title":null}}}},
 {"data":{"name":"noiseB1"},"mark":{"type":"line","color":"#3c9a3c","strokeWidth":1.1},"encoding":{
  "x":{"field":"ppm","type":"quantitative","scale":{"domain":[-74.548,-78.76],"range":[220.7,431.3],"nice":false,"zero":false},
   "axis":{"zindex":1,"orient":"bottom","offset":-215,"tickCount":4,"tickSize":3,"labelExpr":"'-' + format(abs(datum.value), '.1f')","labelFont":"Liberation Serif","labelFontSize":6,"labelPadding":1,"labelColor":"#333","title":"X : parts per Million : 19F","titleFont":"Liberation Serif","titleFontSize":6,"titleFontWeight":"normal","titleX":224,"titleY":14,"titleAlign":"left","titleBaseline":"alphabetic","titleColor":"#333"}},
  "y":{"field":"ab","type":"quantitative","scale":{"domain":[-0.1574,0.298],"range":[1152,963.9],"nice":false,"zero":false},
   "axis":{"zindex":1,"orient":"left","offset":-220.7,"tickCount":4,"tickSize":3,"labelExpr":"abs(datum.value) < 1e-9 ? '0' : (datum.value < 0 ? '-' : '') + format(abs(datum.value), '.1f')","labelAngle":-90,"labelAlign":"center","labelBaseline":"bottom","labelPadding":1,"labelFont":"Liberation Serif","labelFontSize":6,"labelColor":"#333","title":"abundance","titleFont":"Liberation Serif","titleFontSize":6,"titleFontWeight":"normal","titleAngle":-90,"titleX":-15,"titleY":1150,"titleAlign":"left","titleBaseline":"middle","titleColor":"#333"}}}}
]},
{"resolve":{"axis":{"x":"independent","y":"independent"}},"layer":[
 {"data":{"name":"one"},"mark":{"type":"rect","fill":"white","stroke":"#333","strokeWidth":1},"encoding":{"x":{"datum":-81.521,"axis":null},"x2":{"datum":-87.161},"y":{"datum":0.2302,"axis":null},"y2":{"datum":-0.1377}}},
 {"data":{"name":"noiseB2"},"mark":{"type":"line","strokeOpacity":0},"encoding":{
  "x":{"field":"ppm","type":"quantitative","axis":{"zindex":1,"orient":"bottom","offset":-217.2,"tickCount":52,"labels":false,"domain":false,"tickSize":2,"title":null}},
  "y":{"field":"ab","type":"quantitative","axis":{"zindex":1,"orient":"left","offset":-497.7,"tickCount":17,"labels":false,"domain":false,"tickSize":2,"title":null}}}},
 {"data":{"name":"noiseB2"},"mark":{"type":"line","color":"#3c9a3c","strokeWidth":1.1},"encoding":{
  "x":{"field":"ppm","type":"quantitative","scale":{"domain":[-82.01,-87.15],"range":[497.7,731],"nice":false,"zero":false},
   "axis":{"zindex":1,"orient":"bottom","offset":-217.2,"tickCount":5,"tickSize":3,"labelExpr":"'-' + format(abs(datum.value), '.1f')","labelFont":"Liberation Serif","labelFontSize":6,"labelPadding":1,"labelColor":"#333","title":"X : parts per Million : 19F","titleFont":"Liberation Serif","titleFontSize":6,"titleFontWeight":"normal","titleX":501,"titleY":14,"titleAlign":"left","titleBaseline":"alphabetic","titleColor":"#333"}},
  "y":{"field":"ab","type":"quantitative","scale":{"domain":[-0.098,0.2298],"range":[1149.8,958.7],"nice":false,"zero":false},
   "axis":{"zindex":1,"orient":"left","offset":-497.7,"tickCount":3,"tickSize":3,"labelExpr":"abs(datum.value) < 1e-9 ? '0' : (datum.value < 0 ? '-' : '') + format(abs(datum.value), '.1f')","labelAngle":-90,"labelAlign":"center","labelBaseline":"bottom","labelPadding":1,"labelFont":"Liberation Serif","labelFontSize":6,"labelColor":"#333","title":"abundance","titleFont":"Liberation Serif","titleFontSize":6,"titleFontWeight":"normal","titleAngle":-90,"titleX":-15,"titleY":1149,"titleAlign":"left","titleBaseline":"middle","titleColor":"#333"}}}}
]}
]
}
